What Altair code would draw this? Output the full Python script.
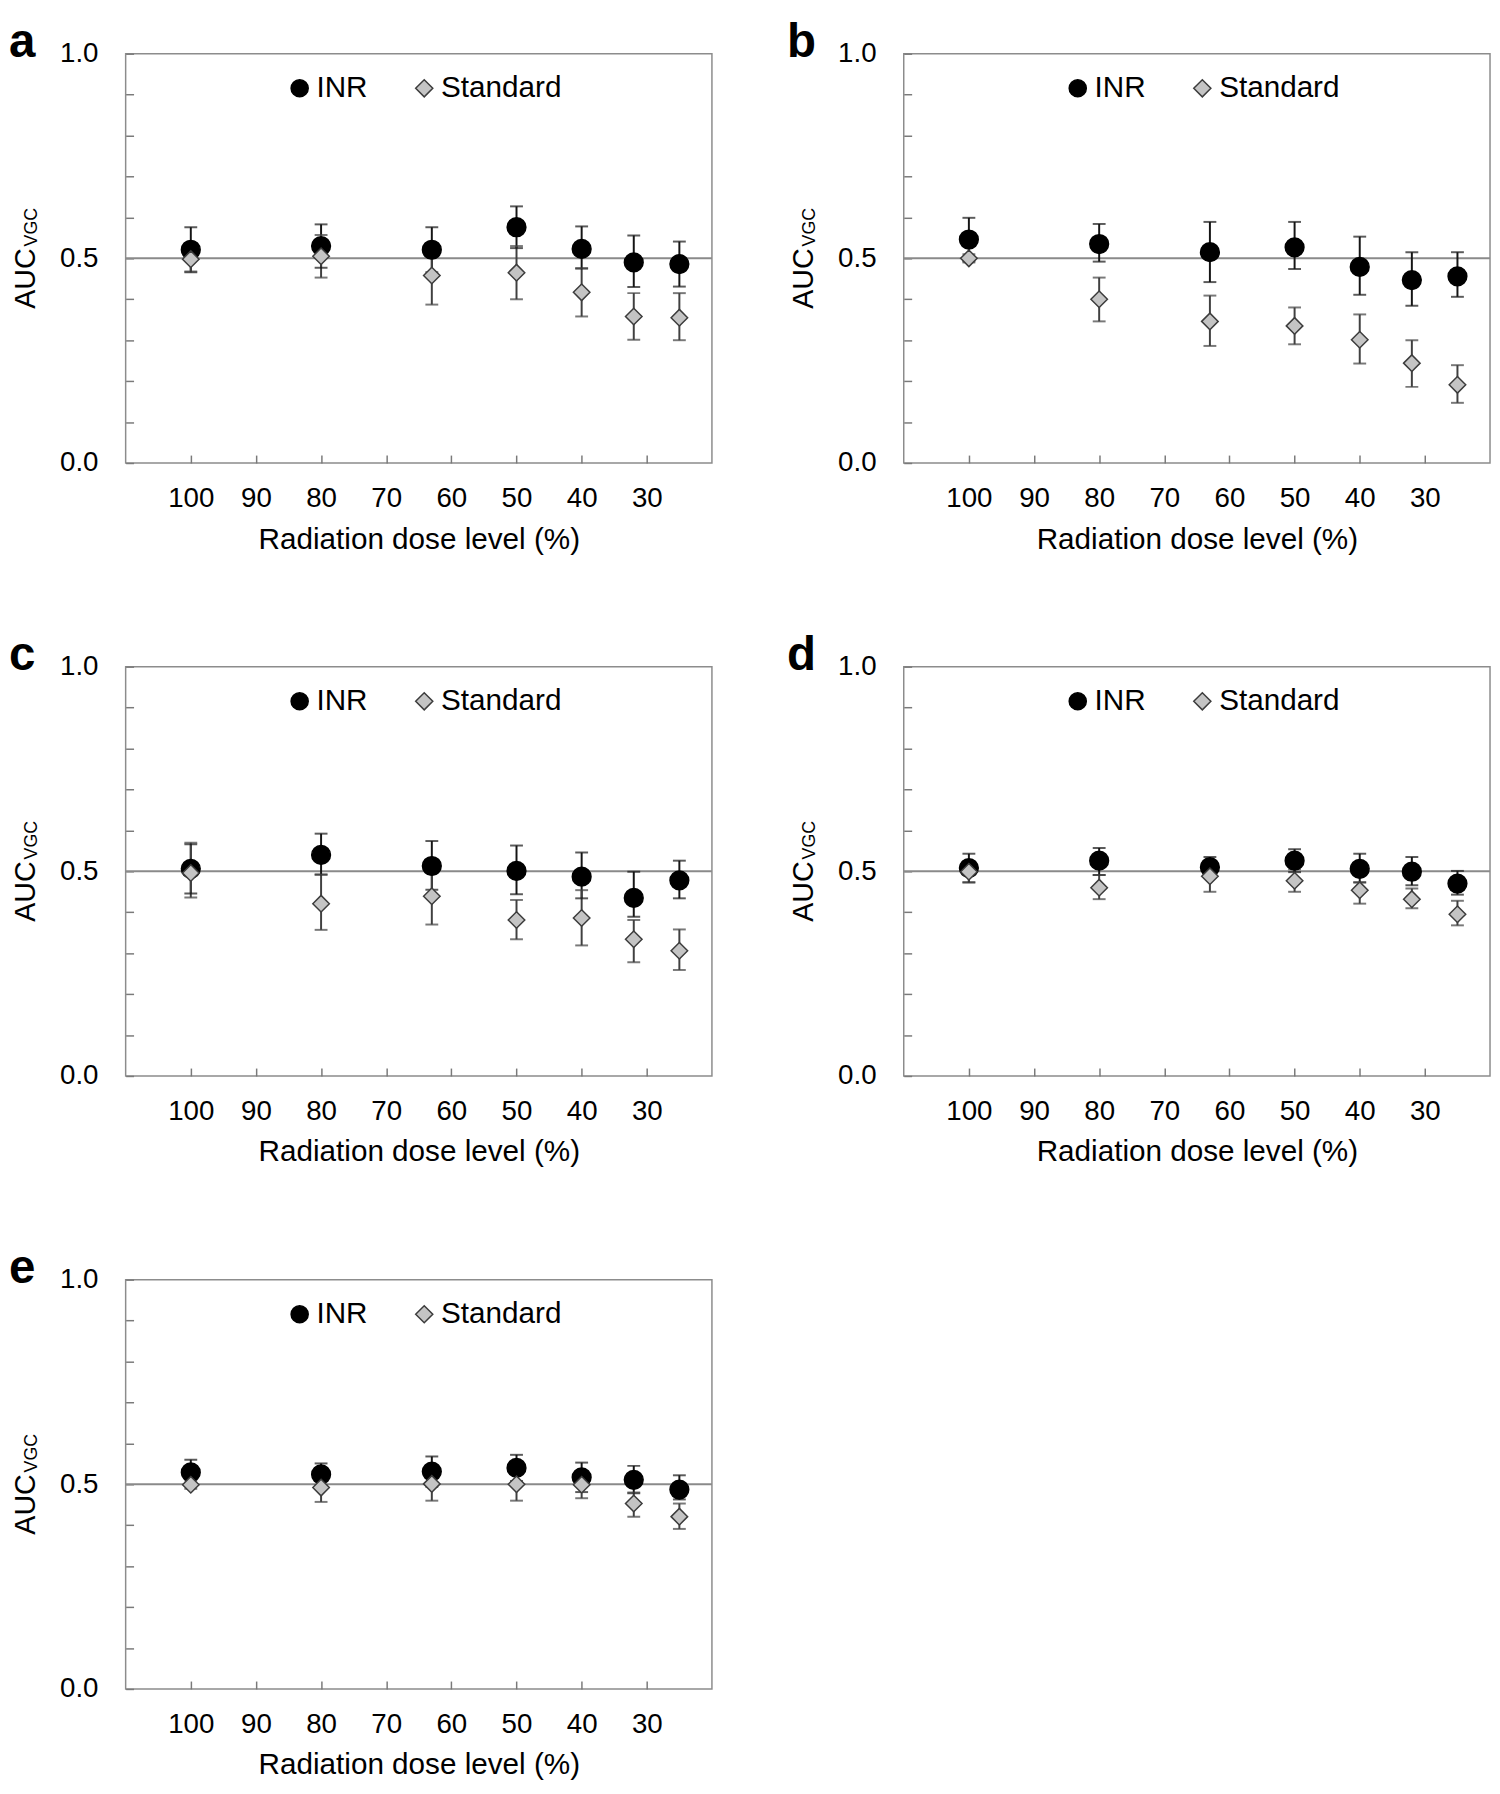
import altair as alt
import pandas as pd

FONT = "Liberation Sans"

DOSE = [100, 80, 63, 50, 40, 32, 25]
SERIES = ["INR", "Standard"]
X_TICKS = [100, 90, 80, 70, 60, 50, 40, 30]
Y_TICKS = [0.0, 0.1, 0.2, 0.3, 0.4, 0.5, 0.6, 0.7, 0.8, 0.9, 1.0]
REF_LINE = [0.5]
X_TITLE = "Radiation dose level (%)"
Y_TITLE = "AUC"
Y_SUB = "VGC"

# panel a
A_INR = [0.521, 0.530, 0.521, 0.576, 0.523, 0.490, 0.486]
A_INR_LO = [0.466, 0.477, 0.466, 0.525, 0.475, 0.430, 0.431]
A_INR_HI = [0.576, 0.583, 0.576, 0.627, 0.578, 0.556, 0.541]
A_STD = [0.498, 0.505, 0.458, 0.465, 0.417, 0.358, 0.355]
A_STD_LO = [0.468, 0.453, 0.387, 0.400, 0.358, 0.301, 0.300]
A_STD_HI = [0.528, 0.557, 0.529, 0.530, 0.476, 0.415, 0.415]

# panel b
B_INR = [0.546, 0.535, 0.515, 0.527, 0.479, 0.447, 0.456]
B_INR_LO = [0.493, 0.492, 0.442, 0.474, 0.411, 0.384, 0.406]
B_INR_HI = [0.599, 0.584, 0.589, 0.589, 0.553, 0.515, 0.515]
B_STD = [0.500, 0.400, 0.346, 0.335, 0.301, 0.244, 0.191]
B_STD_LO = [0.490, 0.346, 0.286, 0.290, 0.243, 0.186, 0.147]
B_STD_HI = [0.510, 0.453, 0.409, 0.380, 0.363, 0.300, 0.239]

# panel c
C_INR = [0.506, 0.540, 0.513, 0.501, 0.487, 0.435, 0.478]
C_INR_LO = [0.446, 0.492, 0.455, 0.444, 0.434, 0.389, 0.434]
C_INR_HI = [0.566, 0.592, 0.574, 0.563, 0.546, 0.499, 0.526]
C_STD = [0.496, 0.421, 0.439, 0.381, 0.386, 0.334, 0.306]
C_STD_LO = [0.436, 0.357, 0.370, 0.334, 0.319, 0.278, 0.259]
C_STD_HI = [0.570, 0.492, 0.508, 0.430, 0.454, 0.381, 0.358]

# panel d
D_INR = [0.508, 0.526, 0.510, 0.526, 0.506, 0.499, 0.470]
D_INR_LO = [0.473, 0.491, 0.485, 0.498, 0.473, 0.466, 0.443]
D_INR_HI = [0.543, 0.557, 0.535, 0.554, 0.543, 0.535, 0.501]
D_STD = [0.499, 0.460, 0.488, 0.477, 0.454, 0.432, 0.395]
D_STD_LO = [0.473, 0.432, 0.450, 0.450, 0.421, 0.410, 0.368]
D_STD_HI = [0.525, 0.491, 0.520, 0.505, 0.473, 0.458, 0.428]

# panel e
E_INR = [0.529, 0.524, 0.531, 0.540, 0.517, 0.511, 0.487]
E_INR_LO = [0.498, 0.497, 0.494, 0.508, 0.481, 0.478, 0.463]
E_INR_HI = [0.560, 0.551, 0.568, 0.572, 0.553, 0.545, 0.522]
E_STD = [0.499, 0.492, 0.501, 0.500, 0.499, 0.453, 0.421]
E_STD_LO = [0.489, 0.457, 0.460, 0.460, 0.466, 0.421, 0.391]
E_STD_HI = [0.509, 0.527, 0.542, 0.540, 0.532, 0.480, 0.453]

W, H = 593, 414


def make_panel(label, inr, inr_lo, inr_hi, std, std_lo, std_hi):
    rows = []
    for s, m, lo, hi in [(SERIES[0], inr, inr_lo, inr_hi), (SERIES[1], std, std_lo, std_hi)]:
        for d, mv, l, h in zip(DOSE, m, lo, hi):
            rows.append({"dose": d, "series": s, "mean": mv, "lo": l, "hi": h})
    df = pd.DataFrame(rows)

    x = alt.X(
        "dose:Q",
        scale=alt.Scale(domain=[20, 110], reverse=True, nice=False, zero=False),
        axis=alt.Axis(
            values=X_TICKS, title=X_TITLE, orient="bottom", offset=-8, tickSize=8,
            domain=False, grid=False, tickColor="#7a7a7a", tickWidth=1.5,
            labelFont=FONT, labelFontSize=28, labelColor="#000000", labelPadding=22,
            labelFlush=False, labelOverlap=False,
            titleFont=FONT, titleFontSize=30, titleFontWeight="normal",
            titleColor="#000000", titlePadding=12,
        ),
    )
    y_axis = alt.Axis(
        values=Y_TICKS, title=None, orient="left", offset=-8, tickSize=8,
        domain=False, grid=False, tickColor="#7a7a7a", tickWidth=1.5,
        labelFont=FONT, labelFontSize=28, labelColor="#000000", labelPadding=28,
        labelFlush=False, labelOverlap=False,
        labelExpr="(abs(datum.value) < 0.001 || abs(datum.value - 0.5) < 0.001 || abs(datum.value - 1) < 0.001) ? format(datum.value, '.1f') : ''",
    )
    yscale = alt.Scale(domain=[0, 1], nice=False, zero=False)

    base = alt.Chart(df).transform_calculate(
        ecol="datum.series == 'INR' ? '#151515' : '#404040'",
        msize="datum.series == 'INR' ? 360 : 280",
    )

    ref = alt.Chart(pd.DataFrame({"v": REF_LINE})).mark_rule(
        color="#8a8a8a", strokeWidth=2
    ).encode(y=alt.Y("v:Q", scale=yscale, axis=y_axis))

    err_color = alt.Color("ecol:N", scale=None)
    bars = base.mark_rule(strokeWidth=2).encode(
        x=x, y=alt.Y("lo:Q", scale=yscale), y2="hi:Q", color=err_color
    )
    cap_lo = base.mark_tick(orient="horizontal", size=13, thickness=2).encode(
        x=x, y=alt.Y("lo:Q", scale=yscale), color=err_color
    )
    cap_hi = base.mark_tick(orient="horizontal", size=13, thickness=2).encode(
        x=x, y=alt.Y("hi:Q", scale=yscale), color=err_color
    )

    leg = alt.Legend(
        orient="none", legendX=161, legendY=20, direction="horizontal", title=None,
        labelFont=FONT, labelFontSize=30, labelColor="#000000", symbolSize=300,
        symbolStrokeWidth=1.5, labelOffset=2, columnPadding=42, padding=0,
    )
    pts = base.mark_point(filled=True, opacity=1, fillOpacity=1, strokeWidth=1.5).encode(
        x=x,
        y=alt.Y("mean:Q", scale=yscale),
        shape=alt.Shape("series:N", scale=alt.Scale(domain=SERIES, range=["circle", "diamond"]), legend=leg),
        fill=alt.Fill("series:N", scale=alt.Scale(domain=SERIES, range=["#000000", "#c4c4c4"]), legend=leg),
        stroke=alt.Stroke("series:N", scale=alt.Scale(domain=SERIES, range=["#000000", "#3c3c3c"]), legend=leg),
        size=alt.Size("msize:Q", scale=None),
    )

    ytitle = alt.Chart(pd.DataFrame({"t": [Y_TITLE]})).mark_text(
        font=FONT, fontSize=29, angle=270, align="left", baseline="alphabetic", color="#000000"
    ).encode(text="t:N", x=alt.value(-92), y=alt.value(258))
    ysub = alt.Chart(pd.DataFrame({"t": [Y_SUB]})).mark_text(
        font=FONT, fontSize=18, angle=270, align="left", baseline="alphabetic", color="#000000"
    ).encode(text="t:N", x=alt.value(-90), y=alt.value(195))
    plabel = alt.Chart(pd.DataFrame({"t": [label]})).mark_text(
        font=FONT, fontSize=48, fontWeight="bold", align="left", baseline="alphabetic", color="#000000"
    ).encode(text="t:N", x=alt.value(-118), y=alt.value(3))

    return alt.layer(ref, bars, cap_lo, cap_hi, pts, ytitle, ysub, plabel).properties(
        width=W, height=H
    )


pa = make_panel("a", A_INR, A_INR_LO, A_INR_HI, A_STD, A_STD_LO, A_STD_HI)
pb = make_panel("b", B_INR, B_INR_LO, B_INR_HI, B_STD, B_STD_LO, B_STD_HI)
pc = make_panel("c", C_INR, C_INR_LO, C_INR_HI, C_STD, C_STD_LO, C_STD_HI)
pd_ = make_panel("d", D_INR, D_INR_LO, D_INR_HI, D_STD, D_STD_LO, D_STD_HI)
pe = make_panel("e", E_INR, E_INR_LO, E_INR_HI, E_STD, E_STD_LO, E_STD_HI)

res = dict(shape="independent", fill="independent", stroke="independent")

row1 = alt.hconcat(pa, pb, spacing=73).resolve_scale(**res)
row2 = alt.hconcat(pc, pd_, spacing=73).resolve_scale(**res)

chart = alt.vconcat(row1, row2, pe, spacing=77).resolve_scale(**res).configure_view(
    stroke="#8c8c8c", strokeWidth=1.5
).properties(padding=0, background="#ffffff")

chart.save("out.html", embed_options={"renderer": "svg", "actions": False})
